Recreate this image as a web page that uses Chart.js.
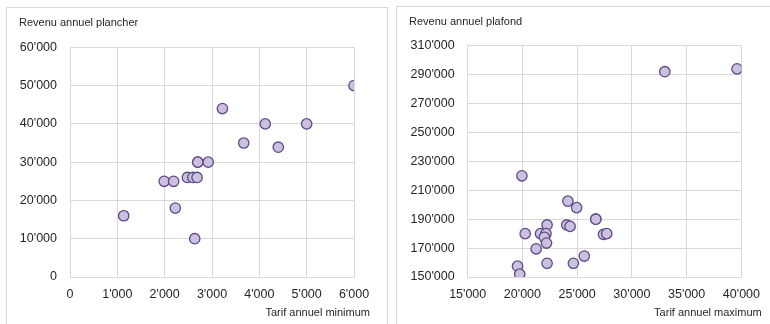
<!DOCTYPE html>
<html>
<head>
<meta charset="utf-8">
<script src="https://cdn.jsdelivr.net/npm/chart.js@4.4.1/dist/chart.umd.min.js"></script>
<style>
  html, body { margin: 0; padding: 0; background: #ffffff; }
  body { width: 770px; height: 324px; position: relative; overflow: hidden; }
  .panel { position: absolute; box-sizing: border-box; border: 1px solid #d9d9d9; background: #fff; }
  canvas { position: absolute; }
</style>
</head>
<body>
<div class="panel" style="left:6px; top:7px; width:382px; height:330px;"></div>
<div class="panel" style="left:396px; top:6px; width:380px; height:330px;"></div>
<canvas id="c1" width="382" height="317" style="left:6px; top:7px;"></canvas>
<canvas id="c2" width="374" height="318" style="left:396px; top:6px;"></canvas>
<script>
// ---- Data ----
const minTarif = [6000, 3220, 4125, 5000, 3670, 4400, 2700, 2700, 2920, 1990, 2190, 2480, 2595, 2685, 2225, 1135, 2635];
const minRevenu = [50000, 44000, 40000, 40000, 35000, 33900, 30000, 30000, 30000, 25000, 25000, 26000, 26000, 26000, 18000, 16000, 10000];

const maxTarif = [39600, 33000, 19950, 24150, 24950, 26700, 26700, 20250, 22250, 21650, 22150, 22000, 22200, 21250, 19550, 19750, 22250, 24650, 25650, 24050, 24350, 27400, 27700];
const maxRevenu = [294000, 292000, 220000, 202500, 198000, 190000, 190000, 180000, 186000, 180000, 180000, 177500, 173500, 169500, 157500, 152000, 159500, 159500, 164500, 186000, 185000, 179500, 180000];

const leftXTicks = [0, 1000, 2000, 3000, 4000, 5000, 6000];
const leftYTicks = [0, 10000, 20000, 30000, 40000, 50000, 60000];
const rightXTicks = [15000, 20000, 25000, 30000, 35000, 40000];
const rightYTicks = [150000, 170000, 190000, 210000, 230000, 250000, 270000, 290000, 310000];

const titles1 = { top: "Revenu annuel plancher", bottom: "Tarif annuel minimum" };
const titles2 = { top: "Revenu annuel plafond", bottom: "Tarif annuel maximum" };

// ---- Helpers ----
function fmt(v) {
  return String(Math.round(v)).replace(/\B(?=(\d{3})+(?!\d))/g, "'");
}
function toPoints(xs, ys) {
  return xs.map((x, i) => ({ x: x, y: ys[i] }));
}
const FONT = "'Liberation Sans', Arial, sans-serif";
const GRID = '#d9d9d9';
const TEXT = '#262626';

const titlePlugin = {
  id: 'panelTitles',
  afterDraw(chart, args, opts) {
    const ctx = chart.ctx;
    ctx.save();
    ctx.fillStyle = TEXT;
    ctx.font = "11px " + FONT;
    ctx.textBaseline = 'middle';
    ctx.textAlign = 'left';
    ctx.fillText(opts.top, opts.topX, opts.topY);
    ctx.textAlign = 'right';
    ctx.fillText(opts.bottom, opts.bottomX, opts.bottomY);
    ctx.restore();
  }
};

function makeChart(id, xs, ys, xTicks, yTicks, cfg) {
  const xMin = xTicks[0], xMax = xTicks[xTicks.length - 1];
  const yMin = yTicks[0], yMax = yTicks[yTicks.length - 1];
  return new Chart(document.getElementById(id), {
    type: 'scatter',
    data: {
      datasets: [{
        data: toPoints(xs, ys),
        backgroundColor: '#cbc0dd',
        borderColor: '#5e4a8a',
        borderWidth: 1.3,
        pointRadius: 5.2,
        pointHoverRadius: 5.2
      }]
    },
    options: {
      responsive: false,
      animation: false,
      layout: { padding: { left: 0, top: cfg.top, right: cfg.right, bottom: 0 } },
      plugins: {
        legend: { display: false },
        tooltip: { enabled: false },
        panelTitles: cfg.titles
      },
      scales: {
        x: {
          type: 'linear',
          min: xMin, max: xMax,
          afterBuildTicks(scale) { scale.ticks = xTicks.map(v => ({ value: v })); },
          afterFit(scale) { scale.height = cfg.xH; },
          grid: { color: GRID, lineWidth: 1, drawTicks: false },
          border: { color: GRID, width: 1 },
          ticks: { padding: 10, color: TEXT, font: { family: FONT, size: 12.5 }, maxRotation: 0, callback: v => fmt(v) }
        },
        y: {
          type: 'linear',
          min: yMin, max: yMax,
          afterBuildTicks(scale) { scale.ticks = yTicks.map(v => ({ value: v })); },
          afterFit(scale) { scale.width = cfg.yW; },
          grid: { color: GRID, lineWidth: 1, drawTicks: false },
          border: { color: GRID, width: 1 },
          ticks: { padding: 13, color: TEXT, font: { family: FONT, size: 12.5 }, callback: v => fmt(v) }
        }
      }
    },
    plugins: [titlePlugin]
  });
}

makeChart('c1', minTarif, minRevenu, leftXTicks, leftYTicks, {
  top: 40.3, right: 34, xH: 47, yW: 64,
  titles: { top: titles1.top, bottom: titles1.bottom, topX: 13, topY: 16, bottomX: 364, bottomY: 306 }
});
makeChart('c2', maxTarif, maxRevenu, rightXTicks, rightYTicks, {
  top: 39.7, right: 25, xH: 47, yW: 71.7,
  titles: { top: titles2.top, bottom: titles2.bottom, topX: 13, topY: 16, bottomX: 365.7, bottomY: 307 }
});
</script>
</body>
</html>
